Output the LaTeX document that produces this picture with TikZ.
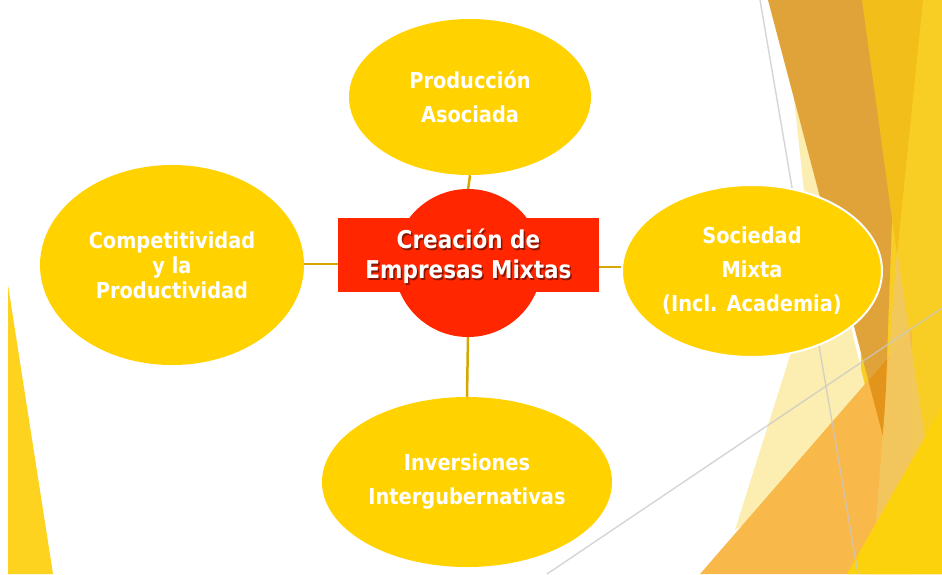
\documentclass[tikz,border=0pt]{standalone}
\usepackage{fontspec}
\setmainfont{DejaVu Sans}[FakeStretch=0.88]
\usetikzlibrary{shapes.geometric}
\definecolor{ellY}{HTML}{FFD200}
\definecolor{redC}{HTML}{FF2600}
\definecolor{connC}{HTML}{D4A800}
\definecolor{paleC}{HTML}{FCEDB0}
\definecolor{tanC}{HTML}{E0A33A}
\definecolor{darkOr}{HTML}{E3941A}
\definecolor{goldC}{HTML}{F2BF1A}
\definecolor{stripC}{HTML}{F8CE25}
\definecolor{eC}{HTML}{F2C860}
\definecolor{orC}{HTML}{F9B84A}
\definecolor{brY}{HTML}{FCD20C}
\definecolor{leftC}{HTML}{FDD320}
\definecolor{grayL}{HTML}{C8C8C8}
\definecolor{shadowC}{HTML}{8A1500}
\newcommand{\shtxt}[1]{\leavevmode\rlap{\hspace{1.5pt}\raisebox{-2pt}{\textcolor{shadowC}{#1}}}#1}
\begin{document}
\begin{tikzpicture}[x=1pt,y=-1pt,
  bubble/.style={ellipse,fill=ellY,inner sep=0pt,text=white,align=center,
    font=\fontsize{22}{34}\selectfont\bfseries},
  conn/.style={draw=connC,line width=2.5pt},
  bgline/.style={draw=grayL,line width=1.4pt,opacity=0.75}]
\useasboundingbox (0,0) rectangle (942,574);
\fill[white] (0,0) rectangle (942,574);
% ---------- background facets ----------
\fill[leftC] (8,285) -- (8,574) -- (53,574) -- cycle;
\fill[stripC] (862,0) -- (942,0) -- (942,574) -- (860,574) -- cycle;
\fill[paleC] (792,80) -- (878,440) -- (735,530) -- (795,340) -- (805,200) -- cycle;
\fill[tanC] (768,0) -- (900,0) -- (884,440) -- cycle;
\fill[orC] (700,574) -- (912,330) -- (912,574) -- cycle;
\begin{scope}
  \clip (700,574) -- (912,330) -- (912,574) -- cycle;
  \fill[darkOr] (768,0) -- (900,0) -- (884,440) -- cycle;
\end{scope}
\fill[goldC] (862,0) -- (923,0) -- (897,255) -- cycle;
\fill[eC,opacity=0.9] (897,250) -- (872,574) -- (945,574) -- cycle;
\fill[brY] (847,574) -- (942,407) -- (942,574) -- cycle;
\coordinate (g1a) at (760,0);
\coordinate (g1b) at (858,574);
\coordinate (g2a) at (547,574);
\coordinate (g2b) at (942,308);
\draw[bgline] (g1a) -- (g1b);
\draw[bgline] (g2a) -- (g2b);
% ---------- diagram ----------
\node[bubble,minimum width=242pt,minimum height=156pt] (prod) at (470,97)
  {Producción\\Asociada};
\node[bubble,minimum width=264pt,minimum height=200pt,
  font=\fontsize{22}{25}\selectfont\bfseries] (comp) at (172,265)
  {Competitividad\\y la\\Productividad};
\node[bubble,minimum width=260pt,minimum height=172pt,draw=white,line width=2pt] (soc) at (752,271)
  {Sociedad\\Mixta\\(Incl. Academia)};
\node[bubble,minimum width=290pt,minimum height=170pt] (inv) at (467,482)
  {Inversiones\\Intergubernativas};
\draw[conn] (prod.south) -- (468,190);
\draw[conn] (inv.north) -- (468,336);
\draw[conn] (comp.east |- 0,264) -- (340,264);
\draw[conn] (597,267) -- (soc.west |- 0,267);
\node[circle,fill=redC,minimum size=148pt,inner sep=0pt] (circ) at (468,263) {};
\node[rectangle,fill=redC,minimum width=261pt,minimum height=74pt,inner sep=0pt] (rect) at (468.5,255) {};
\node[text=white,align=center,font=\fontsize{24.5}{30}\selectfont\bfseries] (title) at (468.5,257)
  {\shtxt{Creación de}\\\shtxt{Empresas Mixtas}};
\end{tikzpicture}
\end{document}
